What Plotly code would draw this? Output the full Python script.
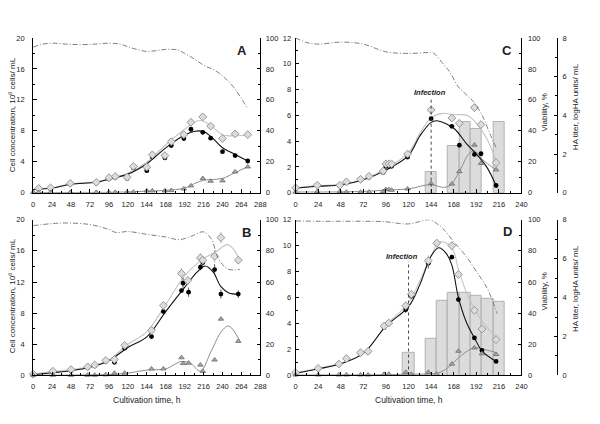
import plotly.graph_objects as go

# ======================= DATA =======================
# ---- Panel A ----
a_t = [7, 22, 47, 80, 96, 104, 119, 127, 144, 151, 167, 175, 191, 200, 215, 225, 240, 256, 272]
a_total = [0.55, 0.63, 1.2, 1.34, 1.93, 2.1, 2.0, 3.4, 3.3, 4.9, 4.8, 6.6, 7.5, 9.1, 9.8, 8.6, 7.0, 7.6, 7.5]
a_total_err = [0, 0, 0, 0, 0, 0, 0, 0, 0, 0.3, 0, 0.2, 0.2, 0.4, 0.45, 0.3, 0, 0.25, 0.2]
a_viable = [0.45, 0.55, 1.1, 1.25, 1.8, 1.95, 1.85, 3.2, 2.85, 4.6, 4.5, 6.1, 7.0, 8.2, 7.8, 7.05, 5.3, 4.8, 4.1]
a_viable_err = [0, 0, 0, 0, 0, 0, 0, 0, 0.25, 0.3, 0.2, 0.25, 0.3, 0.3, 0.3, 0.25, 0.2, 0.2, 0.2]
a_dead_t = [0, 7, 22, 47, 80, 96, 104, 119, 127, 144, 151, 167, 175, 191, 200, 215, 225, 240, 256, 272]
a_dead = [0.05, 0.05, 0.05, 0.05, 0.05, 0.05, 0.05, 0.08, 0.08, 0.25, 0.25, 0.25, 0.3, 0.5, 0.9, 1.85, 1.5, 1.55, 2.7, 3.35]
a_dead_err = [0.15, 0, 0.15, 0.15, 0.15, 0.15, 0, 0.15, 0, 0.3, 0, 0.15, 0, 0, 0, 0, 0, 0, 0, 0]
a_fit_total_t = [0, 24, 48, 80, 96, 120, 144, 168, 192, 206, 214, 226, 240, 256, 272]
a_fit_total = [0.45, 0.65, 1.15, 1.4, 1.8, 2.5, 3.95, 6.2, 8.2, 9.2, 9.3, 8.6, 7.5, 7.35, 7.45]
a_fit_viable_t = [0, 24, 48, 80, 96, 120, 144, 168, 192, 205, 216, 228, 240, 256, 272]
a_fit_viable = [0.4, 0.6, 1.1, 1.35, 1.75, 2.4, 3.75, 5.8, 7.45, 7.95, 7.9, 7.0, 5.8, 4.95, 4.1]
a_fit_dead_t = [0, 48, 96, 120, 144, 168, 192, 205, 216, 240, 256, 272]
a_fit_dead = [0.02, 0.03, 0.05, 0.1, 0.2, 0.3, 0.6, 1.2, 1.6, 1.85, 2.6, 3.35]
a_via_t = [0, 12, 24, 48, 72, 96, 110, 120, 132, 144, 156, 168, 183, 192, 204, 216, 233, 253, 272]
a_via = [94, 96, 96.6, 95.8, 95.8, 96.6, 96, 94.3, 92.5, 91.3, 91.8, 92.6, 92.2, 90, 86.5, 82.4, 78.2, 68.8, 54]

# ---- Panel B ----
b_t = [0, 25, 48, 69, 78, 92, 103, 116, 150, 165, 188, 196, 212, 215, 230, 238, 260]
b_total = [0.17, 0.55, 0.75, 1.1, 1.34, 1.93, 2.05, 3.86, 5.8, 9.0, 13.1, 12.2, 15.1, 14.8, 15.3, 17.7, 14.8]
b_total_err = [0, 0, 0, 0, 0, 0, 0, 0, 0, 0.3, 0.7, 0.5, 0.6, 0.4, 0.8, 0.7, 0.5]
b_viable_t = [0, 25, 48, 69, 78, 92, 103, 116, 150, 165, 188, 190, 197, 212, 215, 230, 238, 260]
b_viable = [0.1, 0.4, 0.6, 1.0, 1.25, 1.8, 1.7, 3.5, 5.0, 8.2, 10.9, 11.85, 10.7, 13.9, 14.5, 13.6, 10.45, 10.45]
b_viable_err = [0, 0, 0, 0, 0, 0, 0, 0, 0, 0, 0.3, 0.7, 0.6, 0.4, 0.4, 0.7, 0.6, 0.5]
b_dead = [0.05, 0.05, 0.05, 0.05, 0.05, 0.1, 0.3, 0.3, 0.85, 0.85, 2.3, 1.55, 1.6, 1.35, 0.55, 2.0, 7.25, 4.4]
b_fit_total_t = [0, 24, 48, 72, 96, 120, 144, 168, 192, 216, 232, 246, 254, 262]
b_fit_total = [0.17, 0.5, 0.75, 1.15, 2.0, 4.0, 5.6, 9.1, 12.8, 15.0, 15.9, 16.8, 16.2, 14.8]
b_fit_viable_t = [0, 24, 48, 72, 96, 120, 144, 168, 192, 208, 218, 228, 238, 248, 262]
b_fit_viable = [0.1, 0.35, 0.6, 1.05, 1.9, 3.6, 4.95, 8.2, 11.3, 13.3, 14.05, 13.3, 11.4, 10.6, 10.45]
b_fit_dead_t = [0, 48, 96, 120, 144, 168, 188, 200, 212, 226, 239, 248, 262]
b_fit_dead = [0.03, 0.05, 0.12, 0.3, 0.7, 0.85, 1.8, 1.5, 0.55, 3.2, 5.7, 6.35, 4.4]
b_via_t = [0, 24, 40, 72, 96, 105, 120, 144, 168, 185, 201, 216, 226, 235, 247, 262]
b_via = [96.2, 97.5, 97.9, 96.9, 93.7, 91.8, 92.4, 90.6, 88.9, 87.2, 89.5, 92.2, 87.4, 74.8, 68.3, 68.1]

# ---- Panel C ----
c_t = [0, 23, 47, 54, 69, 78, 93, 96, 99, 102, 119, 144, 166, 174, 190, 197, 213]
c_total = [0.38, 0.58, 0.58, 0.84, 1.04, 1.27, 1.68, 2.23, 2.23, 2.23, 3.0, 6.42, 5.79, 5.38, 6.6, 5.28, 2.33]
c_total_err = [0, 0, 0, 0, 0, 0, 0, 0, 0, 0, 0, 0.3, 0.25, 0, 0.3, 0, 0]
c_viable = [0.33, 0.52, 0.52, 0.78, 0.98, 1.2, 1.57, 2.05, 2.05, 2.05, 2.77, 5.74, 5.15, 3.68, 2.97, 3.02, 0.56]
c_dead = [0.05, 0.08, 0.08, 0.05, 0.05, 0.05, 0.1, 0.25, 0.25, 0.2, 0.3, 0.71, 0.68, 1.65, 3.7, 2.28, 1.78]
c_fit_total_t = [0, 24, 48, 72, 96, 120, 132, 144, 156, 168, 182, 192, 203, 213]
c_fit_total = [0.38, 0.55, 0.65, 1.05, 1.85, 3.1, 4.6, 5.8, 6.15, 6.05, 6.0, 5.4, 4.2, 2.5]
c_fit_viable_t = [0, 24, 48, 72, 96, 120, 132, 144, 150, 168, 182, 192, 203, 213]
c_fit_viable = [0.35, 0.5, 0.6, 1.0, 1.75, 2.9, 4.4, 5.45, 5.58, 5.0, 3.76, 3.0, 2.0, 0.56]
c_fit_dead_t = [0, 48, 72, 96, 120, 144, 156, 164, 174, 184, 190, 198, 213]
c_fit_dead = [0.05, 0.06, 0.1, 0.2, 0.3, 0.63, 0.42, 0.55, 1.65, 3.0, 3.25, 2.6, 1.78]
c_via_t = [0, 12, 24, 48, 72, 96, 120, 144, 147, 157, 164, 173, 182, 189, 199, 206, 213]
c_via = [100, 97, 96, 97.3, 96, 91, 90, 90.5, 90, 83, 77.8, 68.3, 63, 58.8, 49, 38.7, 29.2]
c_ha_t = [144, 168, 180, 192, 216]
c_ha = [1.05, 2.42, 3.64, 3.32, 3.64]
c_infection = 144

# ---- Panel D ----
d_t = [0, 24, 46, 54, 69, 77, 94, 99, 117, 123, 141, 150, 166, 173, 190, 198, 213]
d_total = [0.2, 0.55, 0.88, 1.3, 1.76, 1.86, 3.8, 4.04, 5.37, 6.25, 8.84, 10.2, 10.0, 7.78, 5.02, 3.57, 2.76]
d_total_err = [0, 0, 0, 0, 0, 0, 0, 0, 0.25, 0, 0.4, 0.3, 0.3, 0, 0, 0, 0]
d_viable = [0.15, 0.5, 0.85, 1.25, 1.7, 1.8, 3.7, 4.0, 5.07, 6.1, 8.64, 10.15, 9.11, 5.85, 2.89, 1.93, 1.08]
d_viable_err = [0, 0, 0, 0, 0, 0, 0, 0, 0.25, 0, 0.4, 0, 0, 0, 0, 0, 0]
d_dead = [0.05, 0.05, 0.05, 0.05, 0.05, 0.05, 0.1, 0.1, 0.25, 0.1, 0.25, 0.1, 0.88, 1.88, 2.13, 1.68, 1.63]
d_fit_total_t = [0, 24, 48, 72, 96, 120, 132, 144, 153, 166, 173, 182, 190, 201, 213]
d_fit_total = [0.2, 0.55, 0.95, 1.7, 3.85, 5.6, 7.3, 9.2, 10.3, 9.84, 8.16, 6.3, 5.15, 3.9, 3.0]
d_fit_viable_t = [0, 24, 48, 72, 96, 120, 132, 144, 152, 160, 166, 173, 182, 190, 198, 213]
d_fit_viable = [0.18, 0.5, 0.9, 1.7, 3.8, 5.3, 7.0, 9.2, 9.84, 9.4, 8.5, 6.0, 4.0, 2.9, 1.9, 1.08]
d_fit_dead_t = [0, 96, 120, 144, 152, 160, 166, 180, 190, 201, 213]
d_fit_dead = [0.03, 0.06, 0.1, 0.12, 0.2, 0.5, 0.88, 1.76, 2.13, 2.0, 1.76]
d_via_t = [0, 24, 48, 72, 96, 110, 120, 132, 142, 150, 157, 168, 180, 192, 204, 214]
d_via = [99.2, 99, 99, 99, 98.7, 97.6, 97.3, 98.8, 100, 97.5, 94, 85.8, 77.4, 66.9, 55.4, 39.7]
d_ha_t = [120, 144, 156, 168, 180, 192, 204, 216]
d_ha = [1.15, 1.91, 3.83, 4.24, 4.24, 4.09, 3.95, 3.8]
d_infection = 120

# ======================= STYLE =======================
FONT = "Liberation Sans, Arial, sans-serif"
TOTAL_LINE = "#c4c4c4"
TOTAL_FILL = "#dcdcdc"
TOTAL_EDGE = "#8f8f8f"
DEAD_LINE = "#8c8c8c"
DEAD_FILL = "#a8a8a8"
DEAD_EDGE = "#6a6a6a"
VIA_COLOR = "#707070"
BAR_FILL = "#dcdcdc"
BAR_EDGE = "#a4a4a4"

fig = go.Figure()


def err(arr, color):
    return dict(type="data", array=arr, visible=True, thickness=0.8, width=0, color=color)


def add_panel(xa, ya_cells, ya_via, t_total, total, total_err, t_viable, viable, viable_err,
              t_dead, dead, dead_err, ft_tot, f_tot, ft_via, f_via, ft_dead, f_dead, vt, vv):
    common = dict(xaxis=xa, yaxis=ya_cells, showlegend=False, hoverinfo="skip")
    fig.add_trace(go.Scatter(x=vt, y=vv, mode="lines", xaxis=xa, yaxis=ya_via, showlegend=False,
                             line=dict(color=VIA_COLOR, width=0.9, dash="5px,2px,1px,2px",
                                       shape="spline", smoothing=1.0),
                             hoverinfo="skip"))
    fig.add_trace(go.Scatter(x=ft_dead, y=f_dead, mode="lines",
                             line=dict(color=DEAD_LINE, width=1, shape="spline", smoothing=1.0), **common))
    fig.add_trace(go.Scatter(x=ft_tot, y=f_tot, mode="lines",
                             line=dict(color=TOTAL_LINE, width=1.1, shape="spline", smoothing=1.0), **common))
    fig.add_trace(go.Scatter(x=ft_via, y=f_via, mode="lines",
                             line=dict(color="#111111", width=1.1, shape="spline", smoothing=1.0), **common))
    fig.add_trace(go.Scatter(x=t_viable, y=viable, mode="markers", cliponaxis=False,
                             error_y=err(viable_err, "#333333") if viable_err else None,
                             marker=dict(symbol="circle", size=4.8, color="black", line=dict(width=0)), **common))
    fig.add_trace(go.Scatter(x=t_total, y=total, mode="markers", cliponaxis=False,
                             error_y=err(total_err, "#999999") if total_err else None,
                             marker=dict(symbol="diamond", size=6, color=TOTAL_FILL,
                                         line=dict(width=0.9, color=TOTAL_EDGE)), **common))
    fig.add_trace(go.Scatter(x=t_dead, y=dead, mode="markers", cliponaxis=False,
                             error_y=err(dead_err, "#555555") if dead_err else None,
                             marker=dict(symbol="triangle-up", size=4.8, color=DEAD_FILL,
                                         line=dict(width=0.8, color=DEAD_EDGE)), **common))


# bars first (base axes of C and D, drawn underneath)
fig.add_trace(go.Bar(x=c_ha_t, y=c_ha, width=12, xaxis="x3", yaxis="y5", showlegend=False,
                     marker=dict(color=BAR_FILL, line=dict(color=BAR_EDGE, width=0.8)), hoverinfo="skip"))
fig.add_trace(go.Bar(x=d_ha_t, y=d_ha, width=12, xaxis="x4", yaxis="y8", showlegend=False,
                     marker=dict(color=BAR_FILL, line=dict(color=BAR_EDGE, width=0.8)), hoverinfo="skip"))

add_panel("x", "y", "y2", a_t, a_total, a_total_err, a_t, a_viable, a_viable_err,
          a_dead_t, a_dead, a_dead_err, a_fit_total_t, a_fit_total, a_fit_viable_t, a_fit_viable,
          a_fit_dead_t, a_fit_dead, a_via_t, a_via)
add_panel("x2", "y3", "y4", b_t, b_total, b_total_err, b_viable_t, b_viable, b_viable_err,
          b_viable_t, b_dead, None, b_fit_total_t, b_fit_total, b_fit_viable_t, b_fit_viable,
          b_fit_dead_t, b_fit_dead, b_via_t, b_via)
add_panel("x3", "y6", "y7", c_t, c_total, c_total_err, c_t, c_viable, None,
          c_t, c_dead, None, c_fit_total_t, c_fit_total, c_fit_viable_t, c_fit_viable,
          c_fit_dead_t, c_fit_dead, c_via_t, c_via)
add_panel("x4", "y9", "y10", d_t, d_total, d_total_err, d_t, d_viable, d_viable_err,
          d_t, d_dead, None, d_fit_total_t, d_fit_total, d_fit_viable_t, d_fit_viable,
          d_fit_dead_t, d_fit_dead, d_via_t, d_via)

# ======================= AXES =======================
# The page body has an 8 px default margin, so the figure is drawn 8 px in from the
# window's top-left corner; positions below are given in window pixels.
OFF = 8
W, H = 592, 416


def fx(x):
    return (x - OFF) / W


def fy(y):
    return 1 - (y - OFF) / H


TOP = [fy(192.7), fy(34.5)]
BOT = [fy(379.5), fy(220.3)]
LEFT = [fx(31.5), fx(261.8)]
RIGHT = [fx(297.5), fx(526.5)]
HA_POS = fx(562.5)


def ax(dtick, minor_dtick, rng, standoff=4, **kw):
    d = dict(showline=True, linecolor="black", linewidth=1, ticks="inside", ticklen=3.5,
             tickwidth=1, tickcolor="black", showgrid=False, zeroline=False, range=rng,
             dtick=dtick, tick0=0, ticklabelstandoff=standoff,
             tickfont=dict(family=FONT, size=7.5, color="#222222"),
             minor=dict(ticks="inside", ticklen=2, tickcolor="black", dtick=minor_dtick, tick0=0,
                        showgrid=False),
             fixedrange=True)
    d.update(kw)
    return d


layout_axes = dict(
    xaxis=ax(24, 12, [0, 288], standoff=4, domain=LEFT, anchor="y"),
    yaxis=ax(4, 2, [0, 20], standoff=6, domain=TOP, anchor="x"),
    yaxis2=ax(20, 10, [0, 100], standoff=3, overlaying="y", side="right", anchor="x"),
    xaxis2=ax(24, 12, [0, 288], standoff=4, domain=LEFT, anchor="y3"),
    yaxis3=ax(4, 2, [0, 20], standoff=6, domain=BOT, anchor="x2"),
    yaxis4=ax(20, 10, [0, 100], standoff=3, overlaying="y3", side="right", anchor="x2"),
    xaxis3=ax(24, 12, [0, 240], standoff=4, domain=RIGHT, anchor="y5"),
    yaxis5=ax(2, 1, [0, 8], standoff=3, domain=TOP, anchor="free", position=HA_POS, side="right"),
    yaxis6=ax(2, 1, [0, 12], standoff=2, overlaying="y5", side="left", anchor="x3"),
    yaxis7=ax(20, 10, [0, 100], standoff=4, overlaying="y5", side="right", anchor="x3"),
    xaxis4=ax(24, 12, [0, 240], standoff=4, domain=RIGHT, anchor="y8"),
    yaxis8=ax(2, 1, [0, 8], standoff=3, domain=BOT, anchor="free", position=HA_POS, side="right"),
    yaxis9=ax(2, 1, [0, 12], standoff=2, overlaying="y8", side="left", anchor="x4"),
    yaxis10=ax(20, 10, [0, 100], standoff=4, overlaying="y8", side="right", anchor="x4"),
)

annotations = []


def text(x, y, s, size=8, angle=0, **kw):
    annotations.append(dict(x=fx(x), y=fy(y), xref="paper", yref="paper", text=s, showarrow=False,
                            textangle=angle, xanchor="center", yanchor="middle",
                            font=dict(family=FONT, size=size, color="#222222"), **kw))


cell_title = "Cell concentration, 10<sup>6</sup> cells/ mL"
text(9.5, 113, cell_title, size=8, angle=-90)
text(9.5, 298, cell_title, size=8, angle=-90)
text(550, 111, "Viability, %", size=8, angle=-90)
text(550, 294, "Viability, %", size=8, angle=-90)
text(582, 105, "HA titer, logHA units/ mL", size=8, angle=-90)
text(582, 291, "HA titer, logHA units/ mL", size=8, angle=-90)
text(147, 405, "Cultivation time, h", size=8.5)
text(412, 405, "Cultivation time, h", size=8.5)
text(243, 47, "<b>A</b>", size=13)
text(248, 233, "<b>B</b>", size=13)
text(512, 47, "<b>C</b>", size=13)
text(512, 232, "<b>D</b>", size=13)

annotations.append(dict(x=c_infection - 1.5, y=7.75, xref="x3", yref="y6", text="<b><i>Infection</i></b>",
                        showarrow=False, font=dict(family=FONT, size=7.5, color="#222222")))
annotations.append(dict(x=d_infection - 6.5, y=9.15, xref="x4", yref="y9", text="<b><i>Infection</i></b>",
                        showarrow=False, font=dict(family=FONT, size=7.5, color="#222222")))

shapes = [
    dict(type="line", xref="x3", yref="y6", x0=c_infection, x1=c_infection, y0=0, y1=7.4,
         line=dict(color="#333333", width=0.9, dash="dot")),
    dict(type="line", xref="x4", yref="y9", x0=d_infection, x1=d_infection, y0=0, y1=8.8,
         line=dict(color="#333333", width=0.9, dash="dot")),
]

fig.update_layout(
    width=W, height=H,
    margin=dict(l=0, r=0, t=0, b=0),
    paper_bgcolor="white", plot_bgcolor="white",
    showlegend=False, bargap=0, barmode="overlay",
    annotations=annotations, shapes=shapes,
    font=dict(family=FONT),
    **layout_axes,
)

fig.write_html("out.html")
